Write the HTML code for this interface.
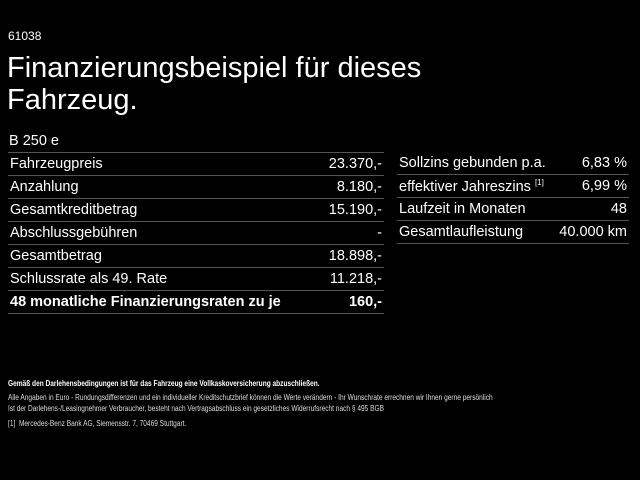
<!DOCTYPE html>
<html><head><meta charset="utf-8"><style>
body{margin:0;width:640px;height:480px;background:#000;color:#fff;font-family:"Liberation Sans",Arial,sans-serif;position:relative;overflow:hidden}
.a{position:absolute;white-space:nowrap}
.f{transform:scaleX(0.82);transform-origin:0 0}
.t{position:absolute;left:8px;width:376px}
.r{position:absolute;left:397px;width:232px}
.row{height:22px;border-bottom:1px solid #555;display:flex;justify-content:space-between;align-items:center;font-size:14.5px;padding:0 2px;box-sizing:content-box}
.b{font-weight:bold}
sup{font-size:8px;vertical-align:6px}
</style></head><body>
<div class="a" style="left:8px;top:29px;font-size:12px">61038</div>
<div class="a" style="left:7px;top:52px;font-size:29px;line-height:32px">Finanzierungsbeispiel für dieses<br>Fahrzeug.</div>
<div class="a" style="left:9px;top:133px;font-size:14.5px">B 250 e</div>
<div class="t" style="top:130px;">
<div class="row"><span></span><span></span></div>
<div class="row"><span>Fahrzeugpreis</span><span>23.370,-</span></div>
<div class="row"><span>Anzahlung</span><span>8.180,-</span></div>
<div class="row"><span>Gesamtkreditbetrag</span><span>15.190,-</span></div>
<div class="row"><span>Abschlussgebühren</span><span>-</span></div>
<div class="row"><span>Gesamtbetrag</span><span>18.898,-</span></div>
<div class="row"><span>Schlussrate als 49. Rate</span><span>11.218,-</span></div>
<div class="row b"><span>48 monatliche Finanzierungsraten zu je</span><span>160,-</span></div>
</div>
<div class="r" style="top:152px">
<div class="row"><span>Sollzins gebunden p.a.</span><span>6,83 %</span></div>
<div class="row"><span>effektiver Jahreszins <sup>[1]</sup></span><span>6,99 %</span></div>
<div class="row"><span>Laufzeit in Monaten</span><span>48</span></div>
<div class="row"><span>Gesamtlaufleistung</span><span>40.000 km</span></div>
</div>
<div class="a b f" style="left:8px;top:379px;font-size:8px">Gemäß den Darlehensbedingungen ist für das Fahrzeug eine Vollkaskoversicherung abzuschließen.</div>
<div class="a f" style="left:8px;top:393px;font-size:8px;color:#ddd">Alle Angaben in Euro - Rundungsdifferenzen und ein individueller Kreditschutzbrief können die Werte verändern - Ihr Wunschrate errechnen wir Ihnen gerne persönlich</div>
<div class="a f" style="left:8px;top:404px;font-size:8px;color:#ddd">Ist der Darlehens-/Leasingnehmer Verbraucher, besteht nach Vertragsabschluss ein gesetzliches Widerrufsrecht nach § 495 BGB</div>
<div class="a f" style="left:8px;top:419px;font-size:8px;color:#ddd">[1]&nbsp; Mercedes-Benz Bank AG, Siemensstr. 7, 70469 Stuttgart.</div>
</body></html>
